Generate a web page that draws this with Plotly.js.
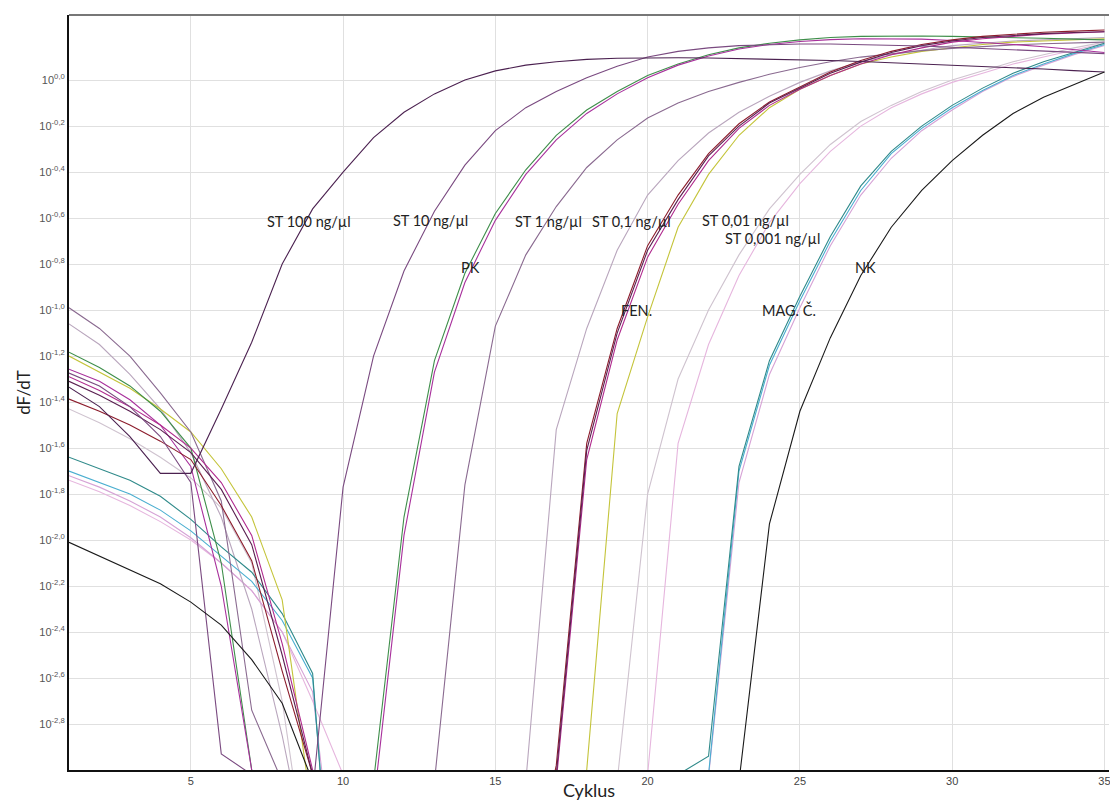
<!DOCTYPE html>
<html>
<head>
<meta charset="utf-8">
<script src="https://cdn.plot.ly/plotly-3.0.1.min.js"></script>
<style>
html,body{margin:0;padding:0;background:#fff;}
#chart{width:1110px;height:801px;}
</style>
</head>
<body>
<div id="chart"></div>
<script>
// Cycle numbers
const cycles = [1,2,3,4,5,6,7,8,9,10,11,12,13,14,15,16,17,18,19,20,21,22,23,24,25,26,27,28,29,30,31,32,33,34,35];

// log10(dF/dT) for each sample (values below -3 are off the chart)
const st100 = [-1.335,-1.42,-1.55,-1.71,-1.71,-1.43,-1.14,-0.8,-0.56,-0.4,-0.25,-0.14,-0.06,0.0,0.04,0.065,0.08,0.09,0.095,0.097,0.097,0.096,0.094,0.092,0.089,0.085,0.081,0.076,0.07,0.065,0.06,0.054,0.048,0.041,0.035];
const st10 = [-1.274,-1.33,-1.42,-1.55,-1.75,-2.93,-3.02,-3.6,-3.1,-1.77,-1.2,-0.83,-0.57,-0.37,-0.22,-0.12,-0.05,0.01,0.06,0.1,0.125,0.14,0.15,0.155,0.157,0.157,0.155,0.152,0.148,0.143,0.138,0.132,0.126,0.12,0.115];
const pkGreen = [-1.183,-1.25,-1.33,-1.44,-1.6,-2.1,-3.0,-3.6,-3.8,-3.6,-3.05,-1.9,-1.22,-0.84,-0.58,-0.39,-0.24,-0.13,-0.05,0.02,0.07,0.11,0.14,0.16,0.175,0.185,0.19,0.192,0.192,0.19,0.188,0.185,0.182,0.178,0.175];
const pkMagenta = [-1.257,-1.31,-1.39,-1.5,-1.68,-2.2,-3.0,-3.7,-3.9,-3.7,-3.15,-1.98,-1.27,-0.88,-0.61,-0.41,-0.26,-0.145,-0.06,0.01,0.065,0.105,0.135,0.155,0.168,0.176,0.18,0.18,0.178,0.172,0.165,0.155,0.145,0.132,0.12];
const st1 = [-0.99,-1.08,-1.2,-1.36,-1.53,-1.83,-2.74,-3.05,-3.8,-4,-4,-3.8,-3.05,-1.76,-1.07,-0.76,-0.55,-0.38,-0.26,-0.165,-0.1,-0.05,-0.01,0.025,0.055,0.08,0.1,0.115,0.128,0.138,0.146,0.153,0.158,0.162,0.165];
const st01 = [-1.06,-1.15,-1.28,-1.43,-1.62,-1.9,-2.3,-2.85,-3.5,-4,-4,-4,-4,-4,-3.8,-3.05,-1.52,-1.08,-0.74,-0.5,-0.35,-0.23,-0.14,-0.07,-0.01,0.04,0.08,0.11,0.13,0.15,0.16,0.17,0.175,0.18,0.185];
const fenPurple = [-1.31,-1.37,-1.44,-1.52,-1.62,-1.78,-2.02,-2.5,-3.02,-4,-4,-4,-4,-4,-4,-3.6,-3.02,-1.61,-1.1,-0.74,-0.52,-0.33,-0.2,-0.1,-0.035,0.03,0.078,0.12,0.15,0.17,0.185,0.195,0.202,0.207,0.21];
const fenMagenta = [-1.29,-1.35,-1.42,-1.5,-1.6,-1.75,-1.98,-2.45,-3.0,-4,-4,-4,-4,-4,-4,-3.6,-3.05,-1.65,-1.13,-0.77,-0.54,-0.35,-0.21,-0.11,-0.04,0.02,0.07,0.11,0.14,0.165,0.18,0.19,0.2,0.205,0.21];
const fenRed = [-1.387,-1.44,-1.5,-1.57,-1.65,-1.85,-2.09,-2.57,-3.02,-4,-4,-4,-4,-4,-4,-3.6,-2.98,-1.58,-1.08,-0.72,-0.5,-0.32,-0.19,-0.095,-0.03,0.035,0.085,0.125,0.155,0.175,0.19,0.2,0.208,0.213,0.218];
const yellowS = [-1.2,-1.27,-1.34,-1.43,-1.53,-1.69,-1.9,-2.26,-3.2,-4,-4,-4,-4,-4,-4,-4,-3.6,-3.0,-1.45,-1.03,-0.64,-0.41,-0.24,-0.12,-0.04,0.02,0.07,0.1,0.125,0.14,0.155,0.165,0.17,0.175,0.18];
const st001 = [-1.43,-1.49,-1.56,-1.64,-1.73,-1.86,-2.1,-2.7,-3.6,-4,-4,-4,-4,-4,-4,-4,-4,-3.8,-3.05,-1.8,-1.3,-1.0,-0.76,-0.56,-0.41,-0.28,-0.18,-0.11,-0.05,0.0,0.04,0.08,0.11,0.14,0.165];
const st0001 = [-1.74,-1.79,-1.85,-1.92,-2.0,-2.1,-2.22,-2.4,-2.7,-3.02,-4,-4,-4,-4,-4,-4,-4,-4,-3.8,-3.02,-1.58,-1.15,-0.85,-0.62,-0.45,-0.31,-0.2,-0.12,-0.06,-0.01,0.03,0.07,0.1,0.13,0.16];
const magTeal = [-1.64,-1.69,-1.74,-1.81,-1.91,-2.03,-2.14,-2.32,-2.58,-4.3,-4.5,-4.5,-4.5,-4.5,-4.5,-4.5,-4.5,-4.5,-4.5,-4.5,-3.02,-2.94,-1.68,-1.22,-0.94,-0.68,-0.46,-0.31,-0.2,-0.11,-0.035,0.03,0.08,0.12,0.16];
const magCyan = [-1.70,-1.75,-1.80,-1.87,-1.96,-2.07,-2.18,-2.35,-2.6,-4.2,-4.5,-4.5,-4.5,-4.5,-4.5,-4.5,-4.5,-4.5,-4.5,-4.5,-4.5,-3.02,-1.7,-1.24,-0.96,-0.7,-0.48,-0.32,-0.21,-0.12,-0.045,0.02,0.07,0.115,0.155];
const magPink = [-1.72,-1.77,-1.83,-1.9,-1.99,-2.1,-2.22,-2.4,-2.66,-3.8,-4.5,-4.5,-4.5,-4.5,-4.5,-4.5,-4.5,-4.5,-4.5,-4.5,-4.5,-3.03,-1.75,-1.28,-0.99,-0.72,-0.5,-0.34,-0.22,-0.13,-0.05,0.015,0.065,0.11,0.15];
const nk = [-2.01,-2.07,-2.13,-2.19,-2.27,-2.37,-2.52,-2.71,-3.05,-3.8,-4,-4,-4,-4,-4,-4,-4,-4,-4,-4,-4,-4,-3.05,-1.93,-1.44,-1.12,-0.85,-0.64,-0.48,-0.35,-0.24,-0.145,-0.075,-0.02,0.035];

const seriesNames = ['ST 0,01 ng/µl','ST 0,001 ng/µl','MAG. Č. 3','ST 0,1 ng/µl','MAG. Č. 2','MAG. Č. 1','Yellow','ST 1 ng/µl','PK 1','PK 2','FEN. 3','FEN. 2','FEN. 1','ST 10 ng/µl','ST 100 ng/µl','NK'];
const seriesData = [st001, st0001, magPink, st01, magCyan, magTeal, yellowS, st1, pkGreen, pkMagenta, fenRed, fenMagenta, fenPurple, st10, st100, nk];
const seriesColors = ['#cfc3cf','#e6b6de','#d6a2d6','#b9a6bd','#4aaed0','#2f8a8a','#c4c43a','#8a6a90','#3e8e4a','#a8309c','#8c1c2c','#b02a8e','#5a1f50','#7a4a80','#4b2150','#1a1a1a'];

// Y ticks
const yTickExp = [0,-0.2,-0.4,-0.6,-0.8,-1.0,-1.2,-1.4,-1.6,-1.8,-2.0,-2.2,-2.4,-2.6,-2.8];
const yTickText = ['10<sup>0,0</sup>','10<sup>-0,2</sup>','10<sup>-0,4</sup>','10<sup>-0,6</sup>','10<sup>-0,8</sup>','10<sup>-1,0</sup>','10<sup>-1,2</sup>','10<sup>-1,4</sup>','10<sup>-1,6</sup>','10<sup>-1,8</sup>','10<sup>-2,0</sup>','10<sup>-2,2</sup>','10<sup>-2,4</sup>','10<sup>-2,6</sup>','10<sup>-2,8</sup>'];
const xTickVals = [5,10,15,20,25,30,35];

// Labels on the curves: text, cycle, log10(dF/dT)
const labelText = ['ST 100 ng/µl','ST 10 ng/µl','PK','ST 1 ng/µl','ST 0,1 ng/µl','ST 0,01 ng/µl','ST 0,001 ng/µl','NK','FEN.','MAG. Č.'];
const labelX = [8.88,12.86,14.17,16.73,19.47,23.23,24.1,27.17,19.65,24.64];
const labelY = [-0.617,-0.609,-0.817,-0.613,-0.613,-0.609,-0.69,-0.813,-1.0,-1.0];

const traces = seriesData.map((d,i)=>({
  x: cycles,
  y: d.map(v=>Math.pow(10,v)),
  type:'scatter', mode:'lines', name: seriesNames[i],
  line:{color: seriesColors[i], width:1.1},
  hoverinfo:'skip'
}));

const annotations = labelText.map((t,i)=>({
  x: labelX[i], y: labelY[i], xref:'x', yref:'y', text: t, showarrow:false,
  font:{family:'Lato, sans-serif', size:14.5, color:'#222'},
  xanchor:'center', yanchor:'middle'
}));

const layout = {
  width:1110, height:801,
  margin:{l:69, r:1, t:15, b:31},
  paper_bgcolor:'#fff', plot_bgcolor:'#fff',
  showlegend:false,
  xaxis:{
    range:[1,35.15], tickvals:xTickVals, ticktext:xTickVals.map(String),
    showgrid:true, gridcolor:'#e0e0e0', gridwidth:1, zeroline:false,
    showline:true, linecolor:'#111', linewidth:2, ticks:'',
    ticklabeloverflow:'allow',
    tickfont:{family:'Liberation Sans, Arial, sans-serif', size:11, color:'#444'},
    title:{text:'Cyklus', font:{family:'Lato, sans-serif', size:18, color:'#222'}, standoff:0}
  },
  yaxis:{
    type:'log', range:[-3,0.283], tickvals: yTickExp.map(e=>Math.pow(10,e)), ticktext:yTickText,
    showgrid:true, gridcolor:'#e0e0e0', gridwidth:1, zeroline:false,
    showline:true, linecolor:'#111', linewidth:2, ticks:'',
    tickfont:{family:'Liberation Sans, Arial, sans-serif', size:11, color:'#555'},
    title:{text:'dF/dT', font:{family:'Lato, sans-serif', size:17, color:'#222'}, standoff:4}
  },
  shapes:[{type:'line', xref:'paper', yref:'paper', x0:0, x1:1, y0:1, y1:1, line:{color:'#777', width:2}}],
  annotations: annotations
};

Plotly.newPlot('chart', traces, layout, {displayModeBar:false, staticPlot:true});
</script>
</body>
</html>
